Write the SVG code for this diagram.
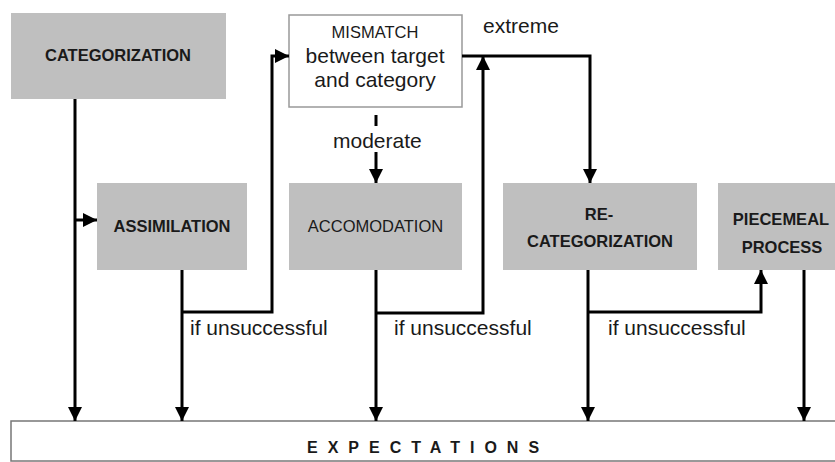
<svg xmlns="http://www.w3.org/2000/svg" width="835" height="462" viewBox="0 0 835 462">
<style>
.box{fill:#bfbfbf;stroke:none}
.lbl{font-family:"Liberation Sans",Arial,sans-serif;font-size:16.5px;fill:#1a1a1a;text-anchor:middle}
.b{font-weight:bold}
.t{font-family:"Liberation Sans",Arial,sans-serif;font-size:21px;fill:#1a1a1a}
.c{fill:none;stroke:#000;stroke-width:3}
</style>
<defs>
<marker id="ah" markerUnits="userSpaceOnUse" markerWidth="14" markerHeight="14" viewBox="0 0 14 14" refX="14" refY="7" orient="auto">
<path d="M0,0 L14,7 L0,14 Z" fill="#000"/>
</marker>
</defs>
<rect width="835" height="462" fill="#fff"/>
<g id="categorization">
<rect class="box" x="11" y="13" width="215" height="86"/>
<text class="lbl b" x="118" y="61">CATEGORIZATION</text>
</g>
<g id="mismatch">
<rect x="289" y="15" width="173" height="92" fill="#fff" stroke="#999" stroke-width="1.5"/>
<text class="lbl" x="375" y="38" font-size="16">MISMATCH</text>
<text class="t" x="375" y="63" text-anchor="middle">between target</text>
<text class="t" x="375" y="87" text-anchor="middle">and category</text>
</g>
<g id="assimilation">
<rect class="box" x="97" y="183" width="150" height="87"/>
<text class="lbl b" x="172" y="232">ASSIMILATION</text>
</g>
<g id="accomodation">
<rect class="box" x="289" y="183" width="173" height="87"/>
<text class="lbl" x="375.5" y="232">ACCOMODATION</text>
</g>
<g id="recategorization">
<rect class="box" x="503" y="183" width="194" height="87"/>
<text class="lbl b" x="599" y="220">RE-</text>
<text class="lbl b" x="600" y="247">CATEGORIZATION</text>
</g>
<g id="piecemeal">
<rect class="box" x="718" y="183" width="130" height="87"/>
<text class="lbl b" x="781" y="225">PIECEMEAL</text>
<text class="lbl b" x="782" y="253">PROCESS</text>
</g>
<g id="expectations">
<rect x="11" y="421" width="840" height="40" fill="#fff" stroke="#777" stroke-width="1.5"/>
<text x="307" y="453" font-family="'Liberation Sans',Arial,sans-serif" font-size="16" font-weight="bold" letter-spacing="10" fill="#1a1a1a">EXPECTATIONS</text>
</g>
<g id="connectors">
<path class="c" d="M75 99 V421" marker-end="url(#ah)"/>
<path class="c" d="M75 220 H97" marker-end="url(#ah)"/>
<path class="c" d="M182 270 V421" marker-end="url(#ah)"/>
<path class="c" d="M182 312 H272 V56 H289" marker-end="url(#ah)"/>
<path class="c" d="M376 115 V126"/>
<path class="c" d="M376 152 V183" marker-end="url(#ah)"/>
<path class="c" d="M376 270 V421" marker-end="url(#ah)"/>
<path class="c" d="M376 313 H483 V56" marker-end="url(#ah)"/>
<path class="c" d="M462 56 H590 V183" marker-end="url(#ah)"/>
<path class="c" d="M588 270 V421" marker-end="url(#ah)"/>
<path class="c" d="M588 312 H761 V270" marker-end="url(#ah)"/>
<path class="c" d="M804 270 V421" marker-end="url(#ah)"/>
</g>
<g id="labels">
<text class="t" x="483" y="33">extreme</text>
<text class="t" x="333" y="148">moderate</text>
<text class="t" x="190" y="335">if unsuccessful</text>
<text class="t" x="394" y="335">if unsuccessful</text>
<text class="t" x="608" y="335">if unsuccessful</text>
</g>
</svg>
